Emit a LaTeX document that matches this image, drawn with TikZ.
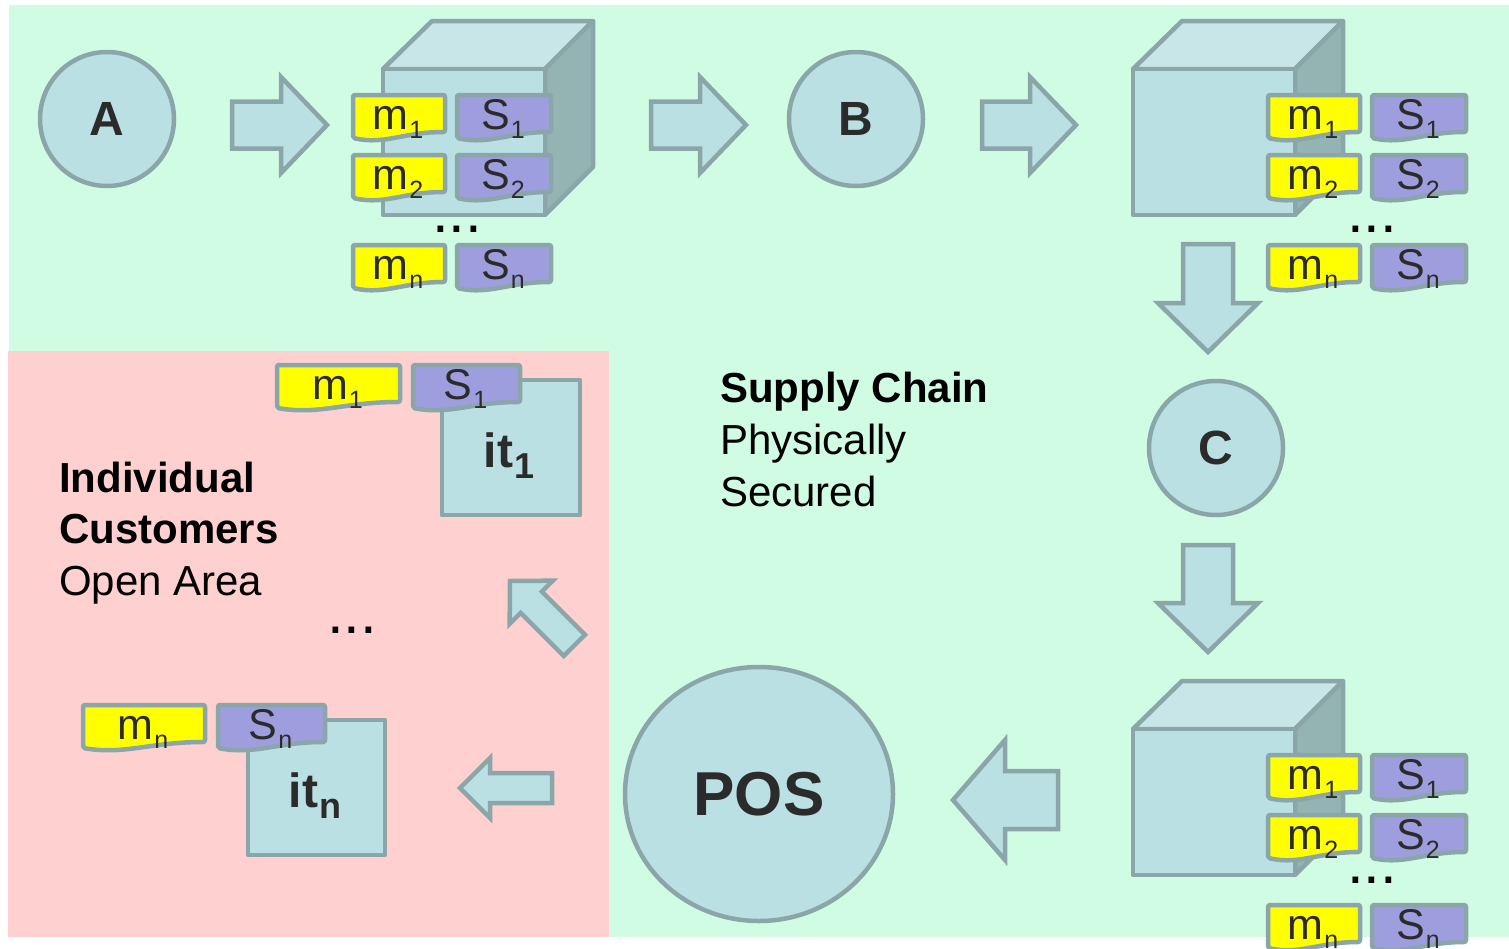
\documentclass[tikz,border=0pt]{standalone}
\usepackage{fontspec}
\setmainfont{Liberation Sans}
\usetikzlibrary{shapes.geometric}

\definecolor{bggreen}{HTML}{D0FCE4}
\definecolor{bgpink}{HTML}{FFD0D0}
\definecolor{boxc}{HTML}{BAE0E3}
\definecolor{topc}{HTML}{C8E6E8}
\definecolor{sidec}{HTML}{94B3B3}
\definecolor{edgec}{HTML}{8AA6A8}
\definecolor{tagm}{HTML}{FFFF00}
\definecolor{tags}{HTML}{9E9EDE}
\definecolor{txt}{HTML}{2B2B2B}

% subscripts used inside the tags and the item boxes
\newcommand\tsub[1]{\kern1pt\raisebox{-9pt}{\fontsize{25}{25}\selectfont #1}}
\newcommand\isub[1]{\kern1pt\raisebox{-11pt}{\fontsize{36}{36}\selectfont\bfseries #1}}

% tag with a wavy lower edge: name, x, y, width, fill, label
\newcommand\tagbox[6]{%
  \draw[edge, fill=#5, rounded corners=2pt]
    (#2,#3) -- ({#2+#4},#3) -- ({#2+#4},{#3+37})
    .. controls ({#2+0.55*#4},{#3+37}) and ({#2+0.35*#4},{#3+50}) .. (#2,{#3+43}) -- cycle;
  \node[taglabel] (#1) at ({#2+#4/2-1},{#3+34}) {#6};}

% box drawn as a cube: x, y of the front top-left corner
\newcommand\cubeat[2]{%
  \draw[edge, fill=topc] (#1,#2) -- ({#1+49},{#2-48}) -- ({#1+210},{#2-48}) -- ({#1+162},#2) -- cycle;
  \draw[edge, fill=sidec] ({#1+162},#2) -- ({#1+210},{#2-48}) -- ({#1+210},{#2+98}) -- ({#1+162},{#2+146}) -- cycle;
  \draw[edge, fill=boxc] (#1,#2) rectangle ({#1+162},{#2+146});}

% block arrow: tip x, tip y, direction angle, length, body width, head width, head length
\newcommand\blockarrow[7]{%
  \begin{scope}[shift={(#1,#2)}, rotate=#3]
    \draw[edge, fill=boxc, line join=miter]
      (0,0) -- (-#7,{#6/2}) -- (-#7,{#5/2}) -- (-#4,{#5/2})
      -- (-#4,{-#5/2}) -- (-#7,{-#5/2}) -- (-#7,{-#6/2}) -- cycle;
  \end{scope}}

\begin{document}
\begin{tikzpicture}[x=1pt, y=-1pt,
  edge/.style={draw=edgec, line width=4.5pt, line join=round},
  taglabel/.style={anchor=base, inner sep=0pt, text=txt, font=\fontsize{43}{43}\selectfont},
  station/.style={circle, edge, fill=boxc, minimum size=134pt, inner sep=0pt, text=txt,
    font=\fontsize{48}{48}\selectfont\bfseries},
  itembox/.style={edge, fill=boxc},
  itemlabel/.style={anchor=base, inner sep=0pt, text=txt, font=\fontsize{48}{48}\selectfont\bfseries},
  heading/.style={anchor=base west, inner sep=0pt, font=\fontsize{42}{42}\selectfont},
  dots/.style={anchor=base, inner sep=0pt, font=\fontsize{60}{60}\selectfont}]

\useasboundingbox (0,0) rectangle (1509,948);
\fill[white] (0,0) rectangle (1509,948);
\fill[bggreen] (9,5) rectangle (1509,937);
\fill[bgpink] (8,351) rectangle (609,937);

% stations
\node[station] (A) at (107,119) {A};
\node[station] (B) at (856,119) {B};
\node[station] (C) at (1216,448) {C};
\node[ellipse, edge, fill=boxc, minimum width=268pt, minimum height=254pt, inner sep=0pt,
  text=txt, font=\fontsize{62}{62}\selectfont\bfseries] (POS) at (759,794) {POS};

% flow arrows
\blockarrow{327}{125}{0}{95}{47}{96}{46}
\blockarrow{746}{125}{0}{95}{47}{96}{46}
\blockarrow{1076}{125}{0}{94}{47}{96}{46}
\blockarrow{1208}{352}{-90}{108}{50}{100}{49}
\blockarrow{1208}{652}{-90}{107}{50}{100}{49}
\blockarrow{953}{800}{180}{105}{58}{120}{52}
\blockarrow{460}{788}{180}{92}{30}{60}{30}
\blockarrow{510}{581}{135}{91}{30}{61}{30}

% first box with its tags
\cubeat{383}{69}
\tagbox{ma1}{353}{95}{92}{tagm}{m\tsub{1}}
\tagbox{sa1}{457}{95}{94}{tags}{S\tsub{1}}
\tagbox{ma2}{353}{155}{92}{tagm}{m\tsub{2}}
\tagbox{sa2}{457}{155}{94}{tags}{S\tsub{2}}
\node[dots] (da) at (457,232) {...};
\tagbox{man}{353}{245}{92}{tagm}{m\tsub{n}}
\tagbox{san}{457}{245}{94}{tags}{S\tsub{n}}

% second box with its tags
\cubeat{1133}{69}
\tagbox{mb1}{1268}{95}{92}{tagm}{m\tsub{1}}
\tagbox{sb1}{1372}{95}{94}{tags}{S\tsub{1}}
\tagbox{mb2}{1268}{155}{92}{tagm}{m\tsub{2}}
\tagbox{sb2}{1372}{155}{94}{tags}{S\tsub{2}}
\node[dots] (db) at (1372,232) {...};
\tagbox{mbn}{1268}{245}{92}{tagm}{m\tsub{n}}
\tagbox{sbn}{1372}{245}{94}{tags}{S\tsub{n}}

% third box with its tags
\cubeat{1133}{729}
\tagbox{mc1}{1268}{755}{92}{tagm}{m\tsub{1}}
\tagbox{sc1}{1372}{755}{94}{tags}{S\tsub{1}}
\tagbox{mc2}{1268}{815}{92}{tagm}{m\tsub{2}}
\tagbox{sc2}{1372}{815}{94}{tags}{S\tsub{2}}
\node[dots] (dc) at (1372,883) {...};
\tagbox{mcn}{1268}{905}{92}{tagm}{m\tsub{n}}
\tagbox{scn}{1372}{905}{94}{tags}{S\tsub{n}}

% individual items in the open area
\draw[itembox] (442,380) rectangle (580,515);
\node[itemlabel] (it1) at (509,467) {it\isub{1}};
\tagbox{mi1}{277}{365}{123}{tagm}{m\tsub{1}}
\tagbox{si1}{413}{365}{107}{tags}{S\tsub{1}}

\draw[itembox] (248,720) rectangle (385,855);
\node[itemlabel] (itn) at (315,807) {it\isub{n}};
\tagbox{min}{83}{705}{122}{tagm}{m\tsub{n}}
\tagbox{sin}{218}{705}{107}{tags}{S\tsub{n}}

\node[dots] (dp) at (352,633) {...};

% area captions
\node[heading, font=\fontsize{42}{42}\selectfont\bfseries] (sc) at (720,402) {Supply Chain};
\node[heading] (ps) at (720,454) {Physically};
\node[heading] (se) at (720,506) {Secured};

\node[heading, font=\fontsize{42}{42}\selectfont\bfseries] (ic) at (59,492) {Individual};
\node[heading, font=\fontsize{42}{42}\selectfont\bfseries] (cu) at (59,543) {Customers};
\node[heading] (oa) at (59,595) {Open Area};

\end{tikzpicture}
\end{document}
